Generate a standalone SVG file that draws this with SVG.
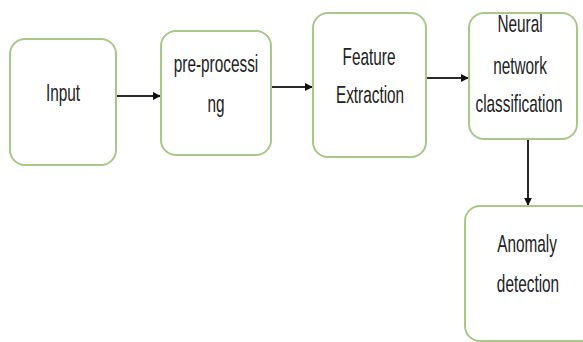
<svg xmlns="http://www.w3.org/2000/svg" width="583" height="342" viewBox="0 0 583 342">
<defs>
<style>
.box{fill:#ffffff;stroke:#a8c88a;stroke-width:2}
.lbl{font-family:"Liberation Sans",Arial,sans-serif;font-size:24px;fill:#222;text-anchor:middle}
.con{stroke:#2a2a2a;stroke-width:2;fill:none}
</style>
<marker id="ah" viewBox="0 0 10 10" refX="9" refY="5" markerWidth="4" markerHeight="4" orient="auto" markerUnits="strokeWidth">
<path d="M0,0 L10,5 L0,10 z" fill="#111"/>
</marker>
</defs>
<rect width="583" height="342" fill="#ffffff"/>
<g id="connectors">
<line class="con" x1="116" y1="96" x2="160" y2="96" marker-end="url(#ah)"/>
<line class="con" x1="271" y1="87" x2="312" y2="87" marker-end="url(#ah)"/>
<line class="con" x1="426" y1="78" x2="468" y2="78" marker-end="url(#ah)"/>
<line class="con" x1="528" y1="139" x2="528" y2="205" stroke-width="1.5" marker-end="url(#ah)"/>
</g>
<g id="input">
<rect class="box" x="10" y="39" width="106" height="126" rx="15"/>
<text class="lbl" transform="translate(63,101) scale(0.64,1)">Input</text>
</g>
<g id="preprocessing">
<rect class="box" x="161" y="31" width="110" height="124" rx="15"/>
<text class="lbl" transform="translate(216,72) scale(0.64,1)">pre-processi</text>
<text class="lbl" transform="translate(216,112) scale(0.64,1)">ng</text>
</g>
<g id="feature">
<rect class="box" x="313" y="13" width="113" height="144" rx="15"/>
<text class="lbl" transform="translate(369,65) scale(0.64,1)">Feature</text>
<text class="lbl" transform="translate(370,103) scale(0.64,1)">Extraction</text>
</g>
<g id="neural">
<rect class="box" x="469" y="13" width="108" height="126" rx="15"/>
<text class="lbl" transform="translate(520,32) scale(0.64,1)">Neural</text>
<text class="lbl" transform="translate(520,74) scale(0.64,1)">network</text>
<text class="lbl" transform="translate(519,112) scale(0.64,1)">classification</text>
</g>
<g id="anomaly">
<rect class="box" x="465" y="206" width="130" height="135" rx="15"/>
<text class="lbl" transform="translate(527,252) scale(0.64,1)">Anomaly</text>
<text class="lbl" transform="translate(528,292) scale(0.64,1)">detection</text>
</g>
</svg>
